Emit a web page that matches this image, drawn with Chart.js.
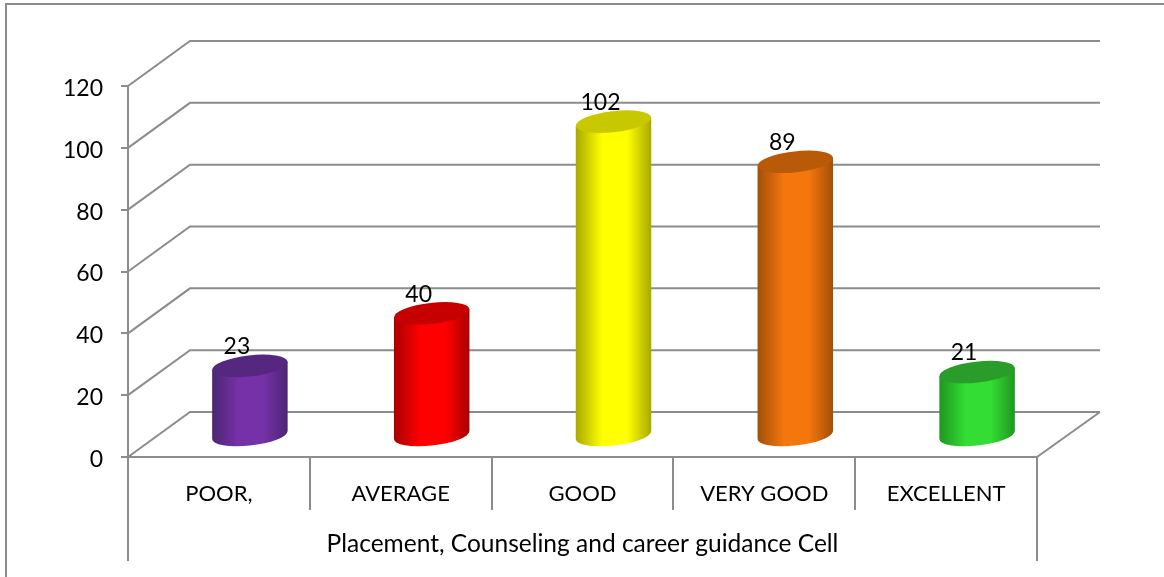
<!DOCTYPE html>
<html><head><meta charset="utf-8">
<style>html,body{margin:0;padding:0;background:#fff}canvas{display:block}</style>
<script src="https://cdn.jsdelivr.net/npm/chart.js@4"></script></head>
<body><div style="width:1164px;height:577px;position:relative"><canvas id="c" width="1164" height="577"></canvas></div>
<script>
const categories = ['POOR,', 'AVERAGE', 'GOOD', 'VERY GOOD', 'EXCELLENT'];
const values = [23, 40, 102, 89, 21];
const axisTitle = 'Placement, Counseling and career guidance Cell';
const centerColors = ['#7631a8', '#ff0000', '#ffff00', '#f5760d', '#33dd33'];
const edgeColors = ['#4c2572', '#a80000', '#a8a800', '#a04f08', '#1f961f'];
const capColors = ['#55277f', '#c60000', '#c8c800', '#b85a08', '#2a9c2a'];
const LINE = '#8c8c8c', FONT = 'Lato, sans-serif', FS = 23;
const DX = 62, DY = 45, BX = 31, BY = 21, RY = 10.5, TILT = -6.5 * Math.PI / 180;

function drawCylinder(ctx) {
  const i = this.$context.dataIndex;
  const rx = this.width / 2, x = this.x + BX, yt = this.y - BY + 1, yb = this.base - BY;
  const t0 = Math.atan2(-RY * Math.sin(TILT), rx * Math.cos(TILT));
  const px = rx * Math.cos(t0) * Math.cos(TILT) - RY * Math.sin(t0) * Math.sin(TILT);
  const py = rx * Math.cos(t0) * Math.sin(TILT) + RY * Math.sin(t0) * Math.cos(TILT);
  const g = ctx.createLinearGradient(x - rx, 0, x + rx, 0);
  g.addColorStop(0, edgeColors[i]);
  g.addColorStop(0.35, centerColors[i]);
  g.addColorStop(0.68, centerColors[i]);
  g.addColorStop(1, edgeColors[i]);
  ctx.save();
  ctx.fillStyle = g;
  ctx.beginPath();
  ctx.moveTo(x - px, yt - py);
  ctx.lineTo(x - px, yb - py);
  ctx.ellipse(x, yb, rx, RY, TILT, t0 + Math.PI, t0, true);
  ctx.lineTo(x + px, yt + py);
  ctx.closePath();
  ctx.fill();
  ctx.fillStyle = capColors[i];
  ctx.beginPath();
  ctx.ellipse(x, yt, rx, RY, TILT, 0, Math.PI * 2);
  ctx.fill();
  ctx.restore();
}

const wall = {
  id: 'wall',
  beforeDatasetsDraw(chart) {
    const { ctx, chartArea: a, scales: { x, y } } = chart;
    ctx.save();
    ctx.strokeStyle = LINE; ctx.lineWidth = 2;
    ctx.beginPath();
    // page frame
    ctx.moveTo(6, 577); ctx.lineTo(6, 4); ctx.lineTo(1164, 4);
    // depth grid
    y.ticks.forEach(t => {
      const p = y.getPixelForValue(t.value);
      ctx.moveTo(a.left, p); ctx.lineTo(a.left + DX, p - DY); ctx.lineTo(a.right + DX + 1, p - DY);
    });
    const base = y.getPixelForValue(0);
    ctx.moveTo(a.right, base); ctx.lineTo(a.right + DX + 1, base - DY);
    // outer multi-level axis brackets
    ctx.moveTo(a.left, base); ctx.lineTo(a.left, 561);
    ctx.moveTo(a.right, base); ctx.lineTo(a.right, 561);
    ctx.stroke();
    ctx.restore();
    chart.getDatasetMeta(0).data.forEach(el => { el.draw = drawCylinder; });
  },
  afterDatasetsDraw(chart) {
    const { ctx } = chart;
    ctx.save();
    ctx.font = FS + 'px ' + FONT; ctx.fillStyle = '#000';
    ctx.textAlign = 'center'; ctx.textBaseline = 'middle';
    chart.getDatasetMeta(0).data.forEach((el, i) => {
      ctx.fillText(String(values[i]), el.x + 18, el.y - BY - 18);
    });
    ctx.restore();
  }
};

new Chart(document.getElementById('c'), {
  type: 'bar',
  data: { labels: categories, datasets: [{ data: values, backgroundColor: centerColors, barPercentage: 76 / 182, categoryPercentage: 1 }] },
  plugins: [wall],
  options: {
    responsive: false, animation: false,
    layout: { padding: { left: 0, right: 127, top: 86, bottom: 17 } },
    plugins: { legend: { display: false }, tooltip: { enabled: false } },
    scales: {
      x: {
        afterFit: s => { s.height = 103; },
        grid: { drawOnChartArea: false, color: LINE, lineWidth: 2, tickLength: 53, offset: true },
        border: { display: true, color: LINE, width: 2 },
        ticks: { color: '#000', font: { family: FONT, size: 22 }, padding: -29, maxRotation: 0 },
        title: { display: true, text: axisTitle, color: '#000', font: { family: FONT, size: 24.5 }, padding: { top: 0, bottom: 1 } }
      },
      y: {
        min: 0, max: 120,
        afterFit: s => { s.width = 128; },
        grid: { drawOnChartArea: false, color: LINE, lineWidth: 2, tickLength: 7 },
        border: { display: true, color: LINE, width: 2 },
        ticks: { stepSize: 20, color: '#000', font: { family: FONT, size: FS }, padding: 18, labelOffset: 2.5 }
      }
    }
  }
});
</script></body></html>
